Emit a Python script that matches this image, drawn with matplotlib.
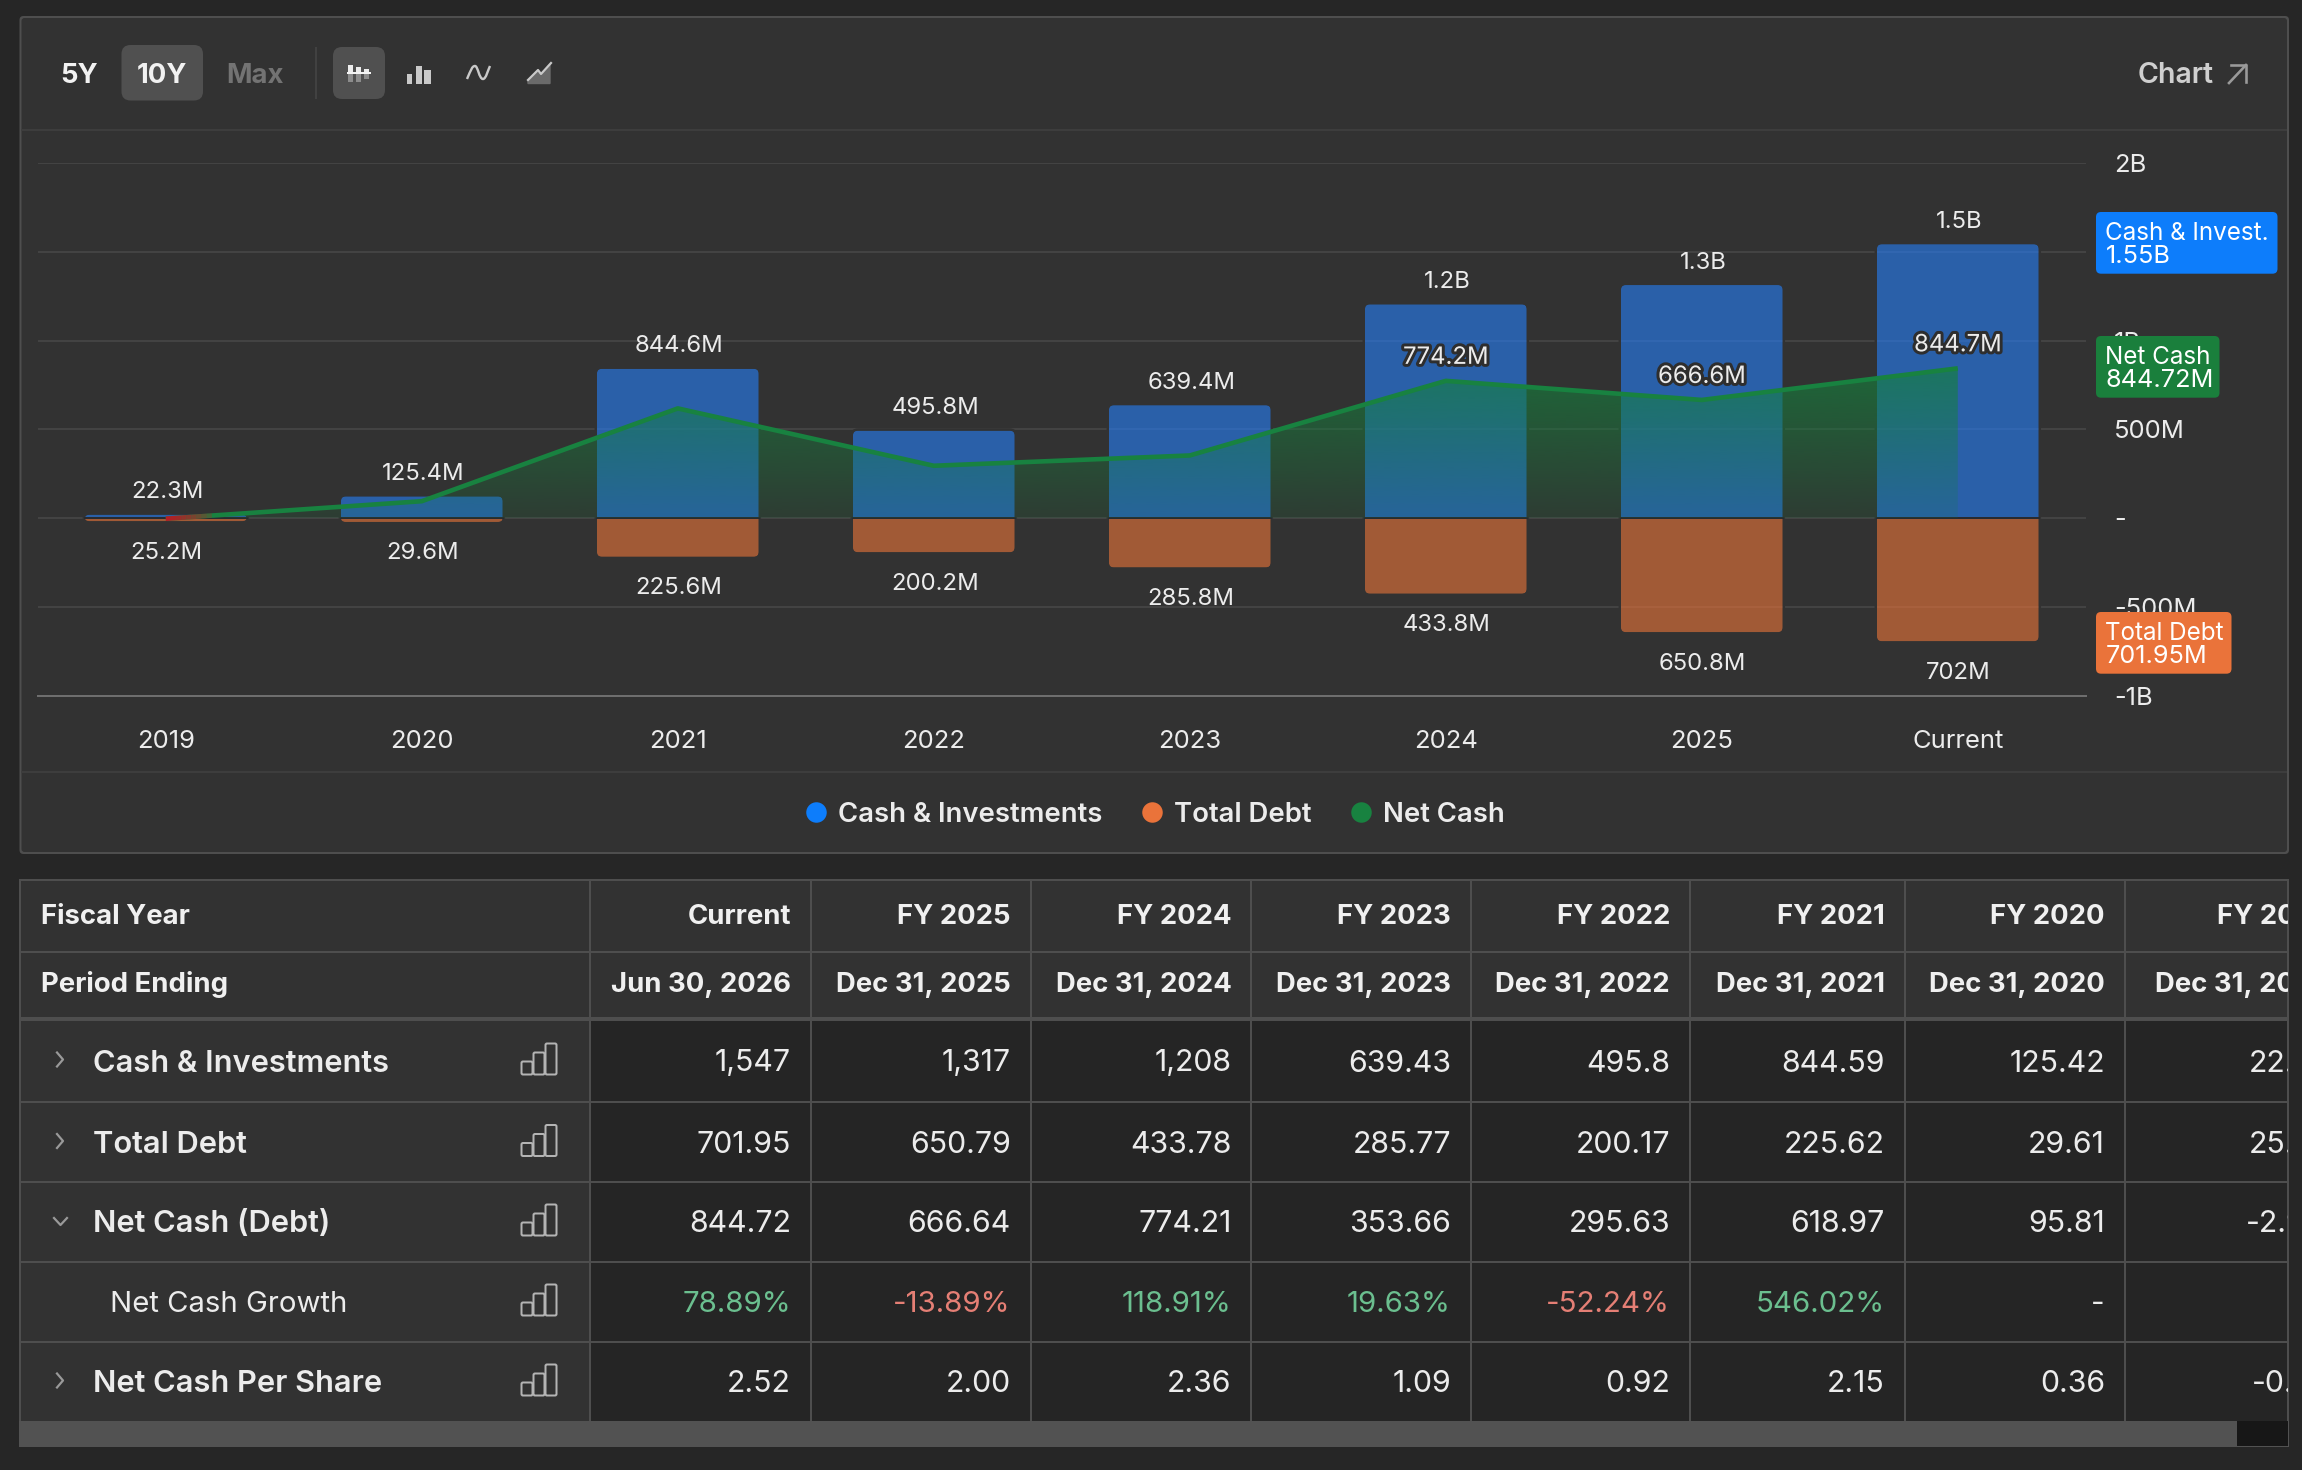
import numpy as np
import matplotlib
matplotlib.use('Agg')
import matplotlib.pyplot as plt
import matplotlib.patheffects as pe
from matplotlib.collections import LineCollection
from matplotlib.lines import Line2D
from matplotlib.patches import FancyBboxPatch, PathPatch, Rectangle
from matplotlib.path import Path
from matplotlib.transforms import Bbox

# Chart data, in millions
years = ['2019', '2020', '2021', '2022', '2023', '2024', '2025', 'Current']
cash = [22.31, 125.42, 844.59, 495.8, 639.43, 1208, 1317, 1547]
debt = [25.21, 29.61, 225.62, 200.17, 285.77, 433.78, 650.79, 701.95]
net = [-2.90, 95.81, 618.97, 295.63, 353.66, 774.21, 666.64, 844.72]
cash_labels = ['22.3M', '125.4M', '844.6M', '495.8M', '639.4M', '1.2B', '1.3B', '1.5B']
debt_labels = ['25.2M', '29.6M', '225.6M', '200.2M', '285.8M', '433.8M', '650.8M', '702M']
net_labels = ['', '', '', '', '', '774.2M', '666.6M', '844.7M']
y_ticks = [-1000, -500, 0, 500, 1000, 1500, 2000]
y_tick_labels = ['-1B', '-500M', '-', '500M', '1B', '', '2B']

# Table data
table_cols = ['Current', 'FY 2025', 'FY 2024', 'FY 2023', 'FY 2022', 'FY 2021', 'FY 2020', 'FY 2019']
table_periods = ['Jun 30, 2026', 'Dec 31, 2025', 'Dec 31, 2024', 'Dec 31, 2023',
                 'Dec 31, 2022', 'Dec 31, 2021', 'Dec 31, 2020', 'Dec 31, 2019']
row_cash = ['1,547', '1,317', '1,208', '639.43', '495.8', '844.59', '125.42', '22.31']
row_debt = ['701.95', '650.79', '433.78', '285.77', '200.17', '225.62', '29.61', '25.21']
row_net = ['844.72', '666.64', '774.21', '353.66', '295.63', '618.97', '95.81', '-2.90']
row_growth = ['78.89%', '-13.89%', '118.91%', '19.63%', '-52.24%', '546.02%', '-', '']
row_share = ['2.52', '2.00', '2.36', '1.09', '0.92', '2.15', '0.36', '-0.01']
row_names = ['Cash & Investments', 'Total Debt', 'Net Cash (Debt)', 'Net Cash Growth', 'Net Cash Per Share']

W, H = 2302, 1470
PAGE = '#262626'
PANEL = '#323232'
CELL = '#252525'
BORDER = '#4e4e4e'
TEXT = '#ececec'
BLUE = '#0d7dfb'
ORANGE = '#ea733a'
GREEN = '#188240'

plt.rcParams['font.family'] = ['Inter', 'DejaVu Sans']


def pt(pixels):
    # figure is saved at dpi 100
    return pixels * 0.72


def box(ax, x0, y0, x1, y1, color, r=0, z=1):
    if r:
        p = FancyBboxPatch((x0, y0), x1 - x0, y1 - y0, boxstyle='round,pad=0,rounding_size=%g' % r,
                           fc=color, ec='none', zorder=z)
    else:
        p = Rectangle((x0, y0), x1 - x0, y1 - y0, fc=color, ec='none', zorder=z)
    ax.add_patch(p)
    return p


def hline(ax, x0, x1, y, color=BORDER, w=2.0, z=3):
    ax.plot([x0, x1], [y, y], color=color, lw=pt(w), zorder=z, solid_capstyle='butt')


def vline(ax, x, y0, y1, color=BORDER, w=2.0, z=3):
    ax.plot([x, x], [y0, y1], color=color, lw=pt(w), zorder=z, solid_capstyle='butt')


def bar_path(x, v, half, rx, ry):
    ry = min(ry, abs(v))
    s = 1 if v > 0 else -1
    verts = [(x - half, 0), (x - half, v - s * ry), (x - half, v), (x - half + rx, v),
             (x + half - rx, v), (x + half, v), (x + half, v - s * ry), (x + half, 0)]
    codes = [Path.MOVETO, Path.LINETO, Path.CURVE3, Path.CURVE3,
             Path.LINETO, Path.CURVE3, Path.CURVE3, Path.LINETO]
    return Path(verts, codes)


def draw_bars(ax, xs, vals, color, px_x, px_y, inset):
    half = 0.633 / 2
    bars = ax.bar(xs, vals, width=half * 2, color=color, linewidth=0, zorder=2)
    for rect, x, v in zip(bars, xs, vals):
        s = 1 if v > 0 else -1
        # the site's bar stroke eats a little of the outer end
        top = v - s * min(inset / px_y, abs(v) * 0.3)
        rect.set_clip_path(bar_path(x, top, half, 5 / px_x, 5 / px_y), transform=ax.transData)
        # thin halo in panel colour that cuts the grid lines round the bar
        halo = bar_path(x, top + s * 1 / px_y, half + 1 / px_x, 6 / px_x, 6 / px_y)
        ax.add_patch(PathPatch(halo, fc='none', ec=PANEL, lw=pt(2.4), zorder=2.2))


def bar_icon(ax, x, y, color='#b4b4b4'):
    # small outline icon at the end of each table row
    for (dx, w, h) in [(0, 11, 13), (12, 11, 22), (24, 11, 31)]:
        ax.add_patch(FancyBboxPatch((x + dx, y + 15 - h), w, h, boxstyle='round,pad=0,rounding_size=1.5',
                                    fc='none', ec=color, lw=pt(2), zorder=4))


fig = plt.figure(figsize=(W / 100, H / 100), dpi=100, facecolor=PAGE)

# back layer in pixel coordinates: panels, toolbar, table
bg = fig.add_axes([0, 0, 1, 1], zorder=0)
bg.set_xlim(0, W)
bg.set_ylim(H, 0)
bg.axis('off')

# chart panel
box(bg, 19.5, 16, 2289, 854, BORDER, r=4, z=1)
box(bg, 21.5, 18, 2287, 852, PANEL, r=3, z=1.1)
hline(bg, 21.5, 2287, 129.5, '#3d3d3d')
hline(bg, 21.5, 2287, 771.5, '#3d3d3d')

# toolbar
box(bg, 121.5, 45, 203, 100.5, '#505050', r=9, z=2)
box(bg, 333, 47, 385, 99, '#505050', r=9, z=2)
vline(bg, 316, 47, 99, '#414141')
tool = dict(fontsize=pt(27.5), fontweight='bold', ha='center', va='center', zorder=5)
bg.text(79, 75.5, '5Y', color='#f2f2f2', **tool)
bg.text(162, 75.5, '10Y', color='#f2f2f2', **tool)
bg.text(255.5, 75.5, 'Max', color='#737373', **tool)
bg.text(2214, 75.5, 'Chart', color='#cfcfcf', fontsize=pt(28.6), fontweight='semibold', ha='right', va='center', zorder=5)
bg.plot([2229, 2246], [83, 65], color='#9a9a9a', lw=pt(2.6), zorder=5)
bg.plot([2231, 2246.5, 2246.5], [64.5, 64.5, 82], color='#9a9a9a', lw=pt(2.6), zorder=5)

# chart type icons
for x0, x1, top, low in [(348.5, 353.5, 64.5, 81.5), (356.5, 361, 67, 82), (364, 369.5, 68.5, 79)]:
    box(bg, x0, top, x1, 73, '#ededed', z=4)
    box(bg, x0, 73, x1, low, '#8c8c8c', z=4)
hline(bg, 347, 371, 72.7, '#f4f4f4', 2, z=5)
for x0, x1, top in [(407.5, 412, 73.5), (415.8, 422.4, 66), (424.5, 430.6, 69.5)]:
    box(bg, x0, top, x1, 83.5, '#c9c9c9', z=4)
wave = Path([(467, 79), (471, 70), (472, 66), (475, 66), (478, 66), (479, 79), (483, 79), (486, 79), (488, 70), (490, 66)],
            [Path.MOVETO] + [Path.CURVE4] * 9)
bg.add_patch(PathPatch(wave, fc='none', ec='#c9c9c9', lw=pt(2.4), zorder=4))
bg.fill([528, 538, 541, 550, 550, 528], [81, 70, 74, 64, 83.5, 83.5], color='#6a6a6a', zorder=3.5)
bg.plot([528, 538, 541, 551], [80, 70, 74, 63], color='#c9c9c9', lw=pt(2.2), zorder=4)

# table
col_edges = [590, 811, 1031, 1251.5, 1471, 1690, 1905, 2125, 2345]
row_mids = [1061.5, 1143, 1222.5, 1302.5, 1382.5]
# the last column runs off the panel, as in a scrolled table (box is in display pixels)
tbl_clip = Bbox([[19.5, H - 1421], [2287.5, H - 880]])


def cell_text(x, y, s, **kw):
    t = bg.text(x, y, s, ha='right', **kw)
    t.set_clip_on(True)
    t.set_clip_box(tbl_clip)
    return t


box(bg, 19.5, 880, 2289, 1447, PANEL, z=1)
box(bg, 590, 1019, 2289, 1421, CELL, z=1.1)
for y, w in [(880, 2), (952, 2), (1019, 4), (1101.5, 2), (1182, 2), (1261.5, 2), (1341.5, 2)]:
    hline(bg, 19.5, 2289, y, BORDER, w)
for x in [20] + col_edges[:-1] + [2288.5]:
    vline(bg, x, 880, 1421, BORDER)

hdr = dict(color='#f0f0f0', fontsize=pt(27.5), fontweight='bold', va='center', zorder=6)
bg.text(41, 917, 'Fiscal Year', **hdr)
bg.text(41, 984.5, 'Period Ending', **hdr)
for i in range(8):
    xr = col_edges[i + 1] - 20
    cell_text(xr, 917, table_cols[i], **hdr)
    cell_text(xr, 984.5, table_periods[i], **hdr)

rows = [row_cash, row_debt, row_net, row_growth, row_share]
for r, vals in enumerate(rows):
    ym = row_mids[r]
    name_x = 110 if r == 3 else 93.5
    bg.text(name_x, ym + 2, row_names[r], color=TEXT, fontsize=pt(29.3) if r == 3 else pt(30.8),
            fontweight='normal' if r == 3 else 'semibold', va='center', zorder=6)
    bar_icon(bg, 521.5, ym - 2)
    if r == 2:
        bg.plot([54, 60.5, 67], [1218, 1225, 1218], color='#9a9a9a', lw=pt(2.2), zorder=5)
    elif r != 3:
        bg.plot([57, 63, 57], [ym - 9, ym - 2, ym + 5], color='#9a9a9a', lw=pt(2.2), zorder=5)
    for i, v in enumerate(vals):
        col = TEXT
        if r == 3 and v != '-':
            col = '#e57f75' if v.startswith('-') else '#6bbf8f'
        cell_text(col_edges[i + 1] - 20, ym + 2, v, color=col, fontsize=pt(29.5) if r == 3 else pt(30.3),
                  va='center', zorder=6)

# scrollbar
box(bg, 19.5, 1421, 2289, 1447, '#525252', z=2)
box(bg, 2237.5, 1421, 2288, 1445.5, '#171717', z=2.5)

# chart axes, placed so that the scale lands on the same pixels as the screenshot
ax_l, ax_r, ax_t, ax_b = 37.8, 2085.8, 163.4, 695.6
ax = fig.add_axes([ax_l / W, 1 - ax_b / H, (ax_r - ax_l) / W, (ax_b - ax_t) / H], zorder=1)
ax.patch.set_alpha(0)
ax.set_xlim(-0.5, 7.5)
ax.set_ylim(-1000, 2000)
px_x = (ax_r - ax_l) / 8
px_y = (ax_b - ax_t) / 3000

xs = np.arange(len(years))
for s in ['top', 'left', 'right']:
    ax.spines[s].set_visible(False)
ax.spines['bottom'].set_color('#6e6e6e')
ax.spines['bottom'].set_linewidth(pt(2))
ax.yaxis.tick_right()
ax.set_yticks(y_ticks)
ax.set_yticklabels(y_tick_labels)
ax.set_xticks(xs)
ax.set_xticklabels(years)
ax.tick_params(axis='y', length=0, pad=pt(28.5), labelsize=pt(25.6), labelcolor=TEXT)
ax.tick_params(axis='x', length=0, pad=pt(34), labelsize=pt(25.6), labelcolor=TEXT)
ax.grid(axis='y', color='#434343', lw=pt(2), zorder=1)
ax.set_axisbelow(True)

draw_bars(ax, xs, cash, (37 / 255, 127 / 255, 250 / 255, 0.6), px_x, px_y, 0.3)
draw_bars(ax, xs, [-d for d in debt], (237 / 255, 117 / 255, 58 / 255, 0.6), px_x, px_y, 1.3)
for x in xs:
    ax.plot([x - 0.633 / 2 - 1 / px_x, x + 0.633 / 2 + 1 / px_x], [0, 0], color='#282b30',
            lw=pt(2), zorder=2.4, solid_capstyle='butt')

# net cash area with vertical gradient
area = ax.fill_between(xs, net, 0, facecolor='none', edgecolor='none', zorder=2.5)
grad = np.zeros((256, 1, 4))
grad[:, 0, 0] = 21 / 255
grad[:, 0, 1] = 128 / 255
grad[:, 0, 2] = 61 / 255
grad[:, 0, 3] = np.linspace(0.68, 0.14, 256)
im = ax.imshow(grad, extent=[xs[0], xs[-1], 0, max(net)], origin='upper', aspect='auto', zorder=2.5,
               interpolation='bilinear')
im.set_clip_path(area.get_paths()[0], transform=ax.transData)
ax.set_xlim(-0.5, 7.5)
ax.set_ylim(-1000, 2000)

ax.plot(xs, net, color=GREEN, lw=pt(4.6), zorder=3, solid_joinstyle='round', solid_capstyle='butt')
# the part of the line that starts below zero fades from red
t = np.linspace(0, 0.2, 11)
ry = net[0] + t * (net[1] - net[0])
segs = [[(t[i], ry[i]), (t[i + 1], ry[i + 1])] for i in range(10)]
seg_cols = [(0.72, 0.11, 0.14, a) for a in np.linspace(1, 0, 10) ** 0.6]
ax.add_collection(LineCollection(segs, colors=seg_cols, linewidths=pt(4.6), zorder=3.1))

lab = dict(color=TEXT, fontsize=pt(23.9), ha='center', va='center', zorder=5)
for x, v, s in zip(xs, cash, cash_labels):
    ax.annotate(s, (x, v), xytext=(1, pt(22)), textcoords='offset points', **lab)
for x, v, s in zip(xs, debt, debt_labels):
    ax.annotate(s, (x, -v), xytext=(0.6, -pt(30)), textcoords='offset points', **lab)
for x, v, s in zip(xs, net, net_labels):
    if s:
        t_net = ax.annotate(s, (x, v), xytext=(0, pt(23)), textcoords='offset points', **lab)
        t_net.set_path_effects([pe.withStroke(linewidth=pt(6), foreground='#2e2e2e')])

# front layer: value tags on the price scale
fg = fig.add_axes([0, 0, 1, 1], zorder=2)
fg.set_xlim(0, W)
fg.set_ylim(H, 0)
fg.axis('off')
fg.patch.set_alpha(0)
for y0, x1, col, l1, l2 in [(212, 2277.5, BLUE, 'Cash & Invest.', '1.55B'),
                            (336, 2219.5, '#1a7f3c', 'Net Cash', '844.72M'),
                            (612, 2231.5, ORANGE, 'Total Debt', '701.95M')]:
    box(fg, 2096, y0, x1, y0 + 61.7, col, r=5, z=2)
    fg.text(2105.5, y0 + 21, l1, color='white', fontsize=pt(24.2), va='center', zorder=3)
    fg.text(2105.5, y0 + 44.5, l2, color='white', fontsize=pt(25.3), va='center', zorder=3)

# legend
handles = [Line2D([], [], ls='', marker='o', ms=pt(20.5), mfc=c, mec='none') for c in (BLUE, ORANGE, GREEN)]
fig.legend(handles, ['Cash & Investments', 'Total Debt', 'Net Cash'], loc='center', ncol=3, frameon=False,
           bbox_to_anchor=(1155 / W, 1 - 814.5 / H), labelcolor=TEXT,
           handlelength=0.75, handletextpad=0.43, columnspacing=1.43,
           prop={'weight': 'semibold', 'size': pt(27.5)})

fig.savefig('out.png', dpi=100, facecolor=PAGE)
